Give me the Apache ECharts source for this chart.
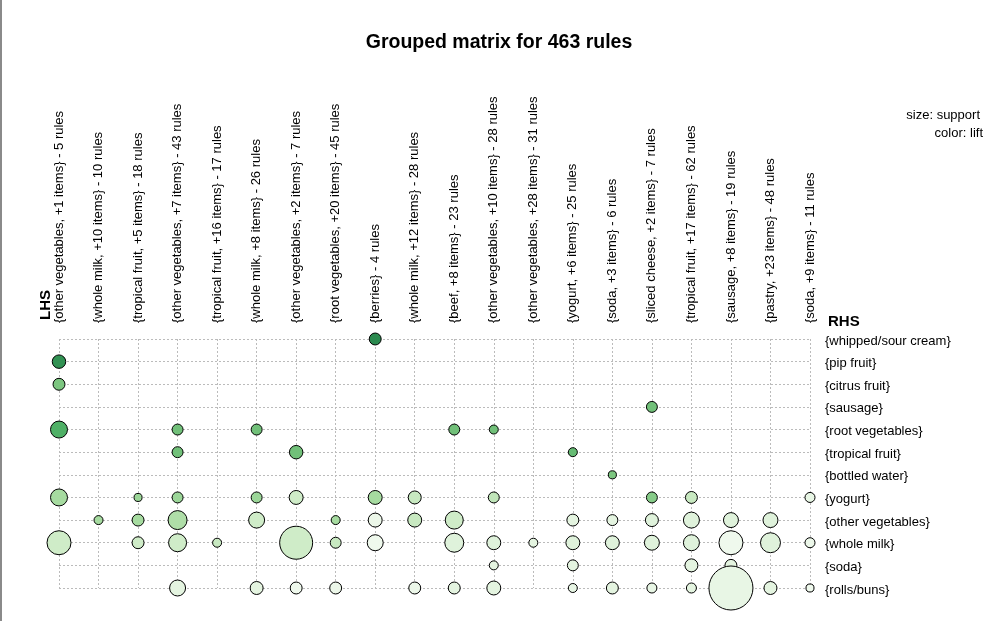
<!DOCTYPE html>
<html>
<head>
<meta charset="utf-8">
<script src="https://cdn.jsdelivr.net/npm/echarts@6/dist/echarts.min.js"></script>
<style>
html,body{margin:0;padding:0;background:#fff;}
#chart{width:998px;height:621px;}
</style>
</head>
<body>
<div id="chart"></div>
<script>
// LHS groups (columns)
const lhsGroups = [
  "{other vegetables, +1 items} - 5 rules",
  "{whole milk, +10 items} - 10 rules",
  "{tropical fruit, +5 items} - 18 rules",
  "{other vegetables, +7 items} - 43 rules",
  "{tropical fruit, +16 items} - 17 rules",
  "{whole milk, +8 items} - 26 rules",
  "{other vegetables, +2 items} - 7 rules",
  "{root vegetables, +20 items} - 45 rules",
  "{berries} - 4 rules",
  "{whole milk, +12 items} - 28 rules",
  "{beef, +8 items} - 23 rules",
  "{other vegetables, +10 items} - 28 rules",
  "{other vegetables, +28 items} - 31 rules",
  "{yogurt, +6 items} - 25 rules",
  "{soda, +3 items} - 6 rules",
  "{sliced cheese, +2 items} - 7 rules",
  "{tropical fruit, +17 items} - 62 rules",
  "{sausage, +8 items} - 19 rules",
  "{pastry, +23 items} - 48 rules",
  "{soda, +9 items} - 11 rules"
];
// RHS items (rows)
const rhsItems = [
  "{whipped/sour cream}", "{pip fruit}", "{citrus fruit}", "{sausage}",
  "{root vegetables}", "{tropical fruit}", "{bottled water}", "{yogurt}",
  "{other vegetables}", "{whole milk}", "{soda}", "{rolls/buns}"
];
// bubbles: column index, row index, support, lift
const bubbleCol = [
  8,
  0,
  0,
  15,
  0, 3, 5, 10, 11,
  3, 6, 13,
  14,
  0, 2, 3, 5, 6, 8, 9, 11, 15, 16, 19,
  1, 2, 3, 5, 7, 8, 9, 10, 13, 14, 15, 16, 17, 18,
  0, 2, 3, 4, 6, 7, 8, 10, 11, 12, 13, 14, 15, 16, 17, 18, 19,
  11, 13, 16, 17,
  3, 5, 6, 7, 9, 10, 11, 13, 14, 15, 16, 17, 18, 19
];
const bubbleRow = [
  0,
  1,
  2,
  3,
  4, 4, 4, 4, 4,
  5, 5, 5,
  6,
  7, 7, 7, 7, 7, 7, 7, 7, 7, 7, 7,
  8, 8, 8, 8, 8, 8, 8, 8, 8, 8, 8, 8, 8, 8,
  9, 9, 9, 9, 9, 9, 9, 9, 9, 9, 9, 9, 9, 9, 9, 9, 9,
  10, 10, 10, 10,
  11, 11, 11, 11, 11, 11, 11, 11, 11, 11, 11, 11, 11, 11
];
const bubbleSupport = [
  0.0044,
  0.0056,
  0.0044,
  0.0037,
  0.0089, 0.0037, 0.0037, 0.0037, 0.0025,
  0.0037, 0.0056, 0.0025,
  0.0020,
  0.0089, 0.0020, 0.0037, 0.0037, 0.0060, 0.0060, 0.0052, 0.0037, 0.0037, 0.0044, 0.0031,
  0.0025, 0.0044, 0.0111, 0.0079, 0.0025, 0.0060, 0.0060, 0.0100, 0.0044, 0.0037, 0.0052, 0.0079, 0.0069, 0.0069,
  0.0178, 0.0044, 0.0100, 0.0025, 0.0336, 0.0037, 0.0079, 0.0111, 0.0060, 0.0025, 0.0060, 0.0060, 0.0069, 0.0079, 0.0178, 0.0123, 0.0031,
  0.0025, 0.0037, 0.0052, 0.0044,
  0.0079, 0.0052, 0.0044, 0.0044, 0.0044, 0.0044, 0.0060, 0.0025, 0.0044, 0.0031, 0.0031, 0.0598, 0.0052, 0.0020
];
const bubbleLift = [
  3.8,
  3.7,
  2.9,
  3.0,
  3.3, 3.0, 3.0, 3.0, 3.0,
  3.0, 3.0, 3.1,
  2.9,
  2.5, 2.6, 2.6, 2.6, 2.0, 2.5, 2.1, 2.2, 2.8, 2.1, 1.5,
  2.5, 2.5, 2.4, 2.0, 2.5, 1.4, 2.1, 2.0, 1.6, 1.6, 1.7, 1.7, 1.7, 1.7,
  2.0, 2.0, 2.0, 2.1, 2.0, 2.1, 1.3, 1.7, 1.7, 1.6, 1.7, 1.7, 1.7, 1.7, 1.3, 1.7, 1.4,
  1.6, 1.6, 1.6, 1.6,
  1.6, 1.6, 1.3, 1.4, 1.4, 1.6, 1.6, 1.5, 1.6, 1.5, 1.6, 1.5, 1.6, 1.3
];

const bubbleData = bubbleCol.map((c, i) => [c, bubbleRow[i], bubbleSupport[i], bubbleLift[i]]);

const FONT = '"Liberation Sans", Arial, sans-serif';
const chart = echarts.init(document.getElementById('chart'), null, {renderer: 'canvas'});
chart.setOption({
  backgroundColor: '#fff',
  animation: false,
  title: {
    text: 'Grouped matrix for 463 rules',
    left: 'center',
    top: 28,
    textStyle: {fontFamily: FONT, fontSize: 19.5, fontWeight: 'bold', color: '#000'}
  },
  grid: {left: 59, right: 188, top: 339, bottom: 33, containLabel: false},
  xAxis: {
    type: 'category',
    data: lhsGroups,
    position: 'top',
    boundaryGap: false,
    axisLine: {show: false},
    axisTick: {show: false},
    axisLabel: {rotate: -90, margin: 16, interval: 0, fontFamily: FONT, fontSize: 13, color: '#000'},
    splitLine: {show: true, lineStyle: {color: '#bbbbbb', type: [2, 2], width: 1}}
  },
  yAxis: {
    type: 'category',
    data: rhsItems,
    position: 'right',
    inverse: true,
    boundaryGap: false,
    axisLine: {show: false},
    axisTick: {show: false},
    axisLabel: {margin: 15, interval: 0, fontFamily: FONT, fontSize: 13, color: '#000', align: 'left',
                verticalAlign: 'top', lineHeight: 4},
    splitLine: {show: true, lineStyle: {color: '#bbbbbb', type: [2, 2], width: 1}}
  },
  visualMap: {
    show: false,
    type: 'continuous',
    dimension: 3,
    min: 1.2,
    max: 3.8,
    inRange: {
      color: ['#f3faf1', '#e3f4df', '#cbeac4', '#a6dba0', '#78c47d', '#48ac62', '#2b8a4f']
    }
  },
  series: [{
    type: 'scatter',
    data: bubbleData,
    symbol: 'circle',
    symbolSize: d => Math.sqrt(d[2]) * 180,
    itemStyle: {borderColor: '#000', borderWidth: 1, opacity: 1},
    z: 3
  }],
  graphic: [
    {type: 'rect', left: 0, top: 0, shape: {width: 2, height: 621}, style: {fill: '#8a8a8a'}},
    {type: 'text', x: 46, y: 305, rotation: Math.PI / 2,
     style: {text: 'LHS', fontFamily: FONT, fontSize: 15, fontWeight: 'bold', fill: '#000', align: 'center', verticalAlign: 'middle'}},
    {type: 'text', x: 828, y: 322,
     style: {text: 'RHS', fontFamily: FONT, fontSize: 15, fontWeight: 'bold', fill: '#000', align: 'left', verticalAlign: 'middle'}},
    {type: 'text', x: 980, y: 115,
     style: {text: 'size: support', fontFamily: FONT, fontSize: 13, fill: '#000', align: 'right', verticalAlign: 'middle'}},
    {type: 'text', x: 983, y: 133,
     style: {text: 'color: lift', fontFamily: FONT, fontSize: 13, fill: '#000', align: 'right', verticalAlign: 'middle'}}
  ]
});
</script>
</body>
</html>
